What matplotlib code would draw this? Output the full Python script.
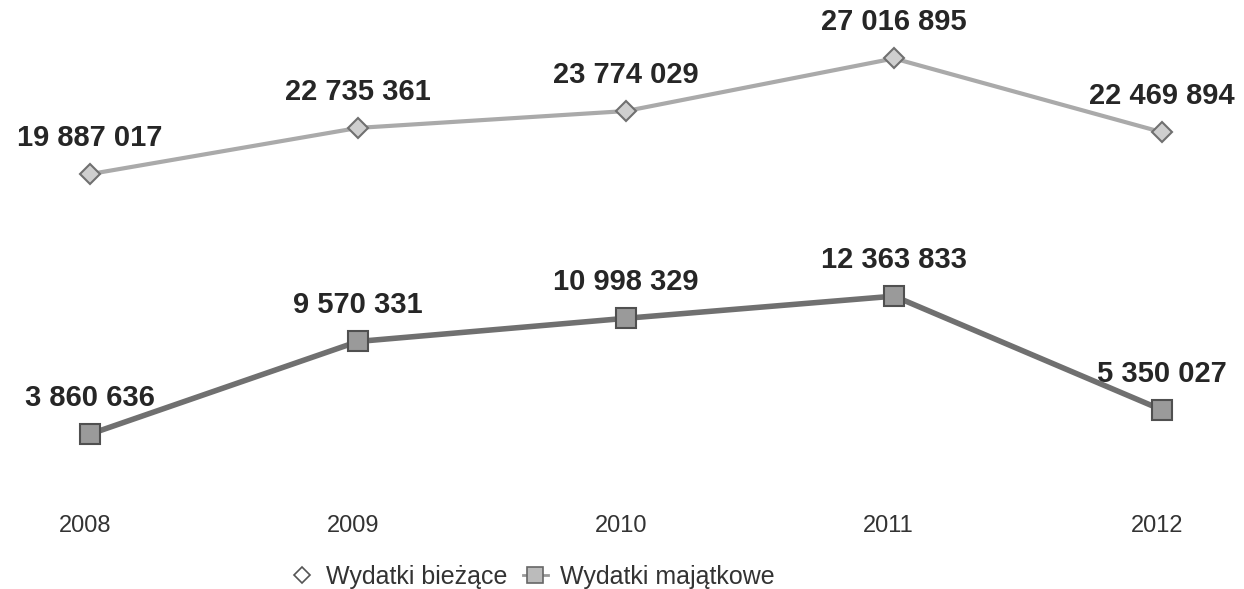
import matplotlib
matplotlib.use("Agg")
import matplotlib.pyplot as plt
from matplotlib.lines import Line2D

years = ["2008", "2009", "2010", "2011", "2012"]
biezace = [19887017, 22735361, 23774029, 27016895, 22469894]
majatkowe = [3860636, 9570331, 10998329, 12363833, 5350027]
labels_b = ["19 887 017", "22 735 361", "23 774 029", "27 016 895", "22 469 894"]
labels_m = ["3 860 636", "9 570 331", "10 998 329", "12 363 833", "5 350 027"]

plt.rcParams['font.family'] = ['Liberation Sans', 'DejaVu Sans']

fig = plt.figure(figsize=(12.44, 5.89), dpi=100)
ax = fig.add_axes([0, 0, 1, 1])
x = list(range(len(years)))

ax.plot(x, biezace, color="#aaaaaa", lw=3, marker="D", ms=10,
        mfc="#cfcfcf", mec="#707070", mew=1.5, zorder=3)
ax.plot(x, majatkowe, color="#707070", lw=4, marker="s", ms=15,
        mfc="#9a9a9a", mec="#505050", mew=1.5, zorder=3)

for xi, v, t in zip(x, biezace, labels_b):
    ax.annotate(t, (xi, v), xytext=(0, 16), textcoords="offset points",
                ha="center", va="bottom", fontsize=21, fontweight="bold",
                color="#262626")
for xi, v, t in zip(x, majatkowe, labels_m):
    ax.annotate(t, (xi, v), xytext=(0, 16), textcoords="offset points",
                ha="center", va="bottom", fontsize=21, fontweight="bold",
                color="#262626")

ax.set_xlim(-0.336, 4.306)
ax.set_ylim(-5.69e6, 30.62e6)
ax.axis("off")

for xi, yr in zip(x, years):
    ax.text(xi - 0.02, 1 - 526 / 589, yr, transform=ax.get_xaxis_transform(),
            ha="center", va="center", fontsize=17, color="#333333")

handles = [
    Line2D([], [], color="none", marker="D", ms=8, mfc="white", mec="#555555", mew=1.2),
    Line2D([], [], color="#999999", lw=2, marker="s", ms=11, mfc="#bbbbbb", mec="#666666", mew=1.2),
]
fig.legend(handles, ["Wydatki bieżące", "Wydatki majątkowe"], loc="center",
           bbox_to_anchor=(532 / 1244, 1 - 577 / 589), ncol=2, frameon=False,
           fontsize=18, handlelength=1.0, handletextpad=0.5, columnspacing=0.6,
           labelcolor="#333333")

fig.savefig("out.png", dpi=100)
